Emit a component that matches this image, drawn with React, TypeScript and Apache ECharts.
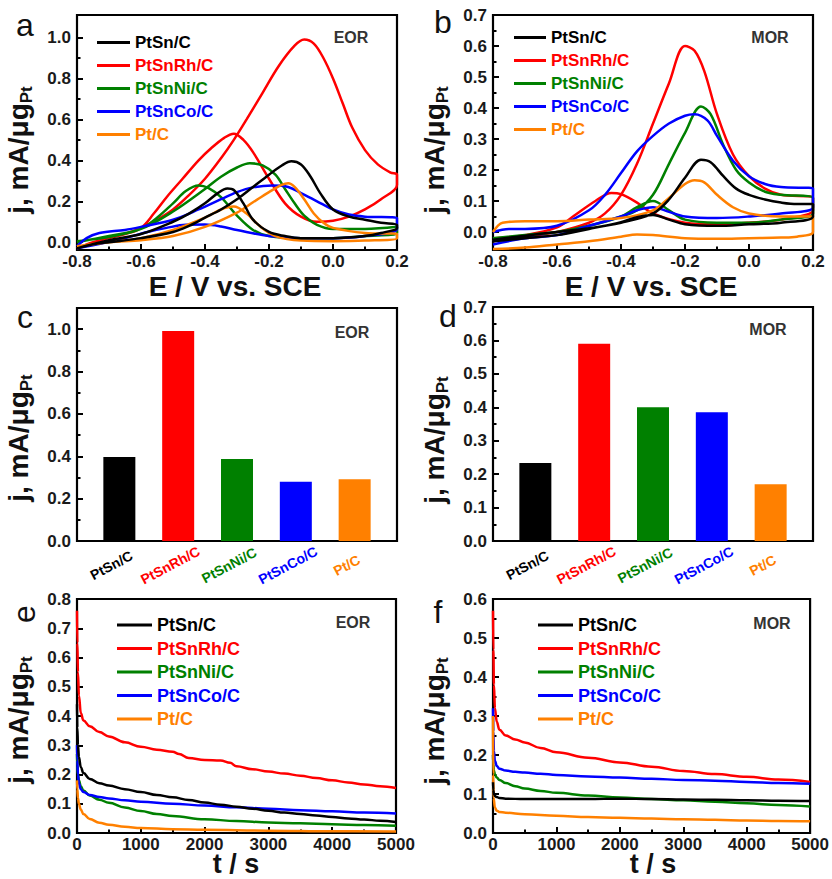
import React, { useEffect, useRef } from "react";
import * as echarts from "echarts";

const FONT = 'Arial, "Liberation Sans", Helvetica, sans-serif';
const NAMES = ["PtSn/C", "PtSnRh/C", "PtSnNi/C", "PtSnCo/C", "Pt/C"];
const COLORS = ["#000000", "#ff0000", "#008000", "#0000ff", "#ff8000"];

// ---- Panel a: CV in ethanol (forward scan then backward scan), [E, j]
const cvEorPtSn = [[-0.8,-0.03],[-0.75,-0.01],[-0.7,0.0],[-0.6,0.02],[-0.5,0.05],[-0.45,0.08],[-0.4,0.12],[-0.35,0.16],[-0.3,0.21],[-0.25,0.27],[-0.2,0.33],[-0.16,0.375],[-0.13,0.395],[-0.1,0.38],[-0.07,0.32],[-0.04,0.24],[0.0,0.16],[0.05,0.125],[0.1,0.11],[0.15,0.095],[0.2,0.085],[0.2,0.07],[0.15,0.045],[0.1,0.03],[0.0,0.02],[-0.1,0.02],[-0.15,0.03],[-0.2,0.05],[-0.25,0.11],[-0.28,0.19],[-0.31,0.255],[-0.33,0.262],[-0.36,0.24],[-0.4,0.19],[-0.45,0.14],[-0.5,0.1],[-0.6,0.04],[-0.7,0.01],[-0.8,-0.03]];
const cvEorPtSnRh = [[-0.8,-0.03],[-0.75,0.0],[-0.7,0.02],[-0.65,0.04],[-0.6,0.07],[-0.55,0.11],[-0.5,0.16],[-0.45,0.23],[-0.4,0.31],[-0.35,0.41],[-0.31,0.5],[-0.27,0.6],[-0.22,0.73],[-0.17,0.86],[-0.12,0.96],[-0.09,0.99],[-0.06,0.97],[-0.03,0.9],[0.0,0.8],[0.03,0.68],[0.06,0.56],[0.1,0.45],[0.14,0.38],[0.18,0.34],[0.2,0.33],[0.2,0.28],[0.15,0.21],[0.1,0.16],[0.05,0.125],[0.0,0.105],[-0.05,0.1],[-0.1,0.125],[-0.15,0.19],[-0.2,0.31],[-0.25,0.44],[-0.28,0.5],[-0.31,0.53],[-0.34,0.51],[-0.38,0.46],[-0.42,0.4],[-0.47,0.31],[-0.52,0.22],[-0.56,0.14],[-0.6,0.07],[-0.65,0.04],[-0.7,0.02],[-0.75,0.0],[-0.8,-0.03]];
const cvEorPtSnNi = [[-0.8,0.0],[-0.7,0.03],[-0.6,0.065],[-0.5,0.15],[-0.4,0.26],[-0.35,0.32],[-0.3,0.365],[-0.26,0.386],[-0.22,0.375],[-0.18,0.33],[-0.15,0.26],[-0.12,0.19],[-0.09,0.13],[-0.05,0.085],[0.0,0.065],[0.1,0.065],[0.2,0.075],[0.2,0.045],[0.1,0.03],[0.0,0.02],[-0.1,0.02],[-0.2,0.03],[-0.25,0.06],[-0.3,0.13],[-0.35,0.22],[-0.39,0.265],[-0.42,0.277],[-0.46,0.25],[-0.5,0.19],[-0.55,0.12],[-0.6,0.065],[-0.7,0.025],[-0.8,0.005]];
const cvEorPtSnCo = [[-0.8,-0.02],[-0.77,0.02],[-0.73,0.045],[-0.65,0.06],[-0.6,0.075],[-0.5,0.11],[-0.42,0.16],[-0.35,0.21],[-0.3,0.245],[-0.25,0.268],[-0.19,0.277],[-0.14,0.27],[-0.1,0.24],[-0.05,0.2],[0.0,0.16],[0.05,0.135],[0.1,0.125],[0.2,0.118],[0.2,0.065],[0.1,0.03],[0.0,0.02],[-0.1,0.02],[-0.2,0.03],[-0.3,0.06],[-0.35,0.077],[-0.4,0.086],[-0.46,0.085],[-0.52,0.07],[-0.58,0.05],[-0.65,0.02],[-0.72,-0.005],[-0.8,-0.03]];
const cvEorPt = [[-0.8,-0.02],[-0.7,0.0],[-0.6,0.01],[-0.5,0.03],[-0.4,0.075],[-0.3,0.145],[-0.25,0.195],[-0.2,0.245],[-0.16,0.28],[-0.14,0.288],[-0.12,0.27],[-0.09,0.21],[-0.06,0.14],[-0.03,0.095],[0.0,0.07],[0.1,0.045],[0.2,0.04],[0.2,0.02],[0.1,0.008],[0.0,0.005],[-0.1,0.008],[-0.18,0.03],[-0.23,0.08],[-0.27,0.14],[-0.31,0.174],[-0.35,0.16],[-0.4,0.12],[-0.5,0.06],[-0.6,0.02],[-0.7,0.0],[-0.8,-0.02]];

// ---- Panel b: CV in methanol, [E, j]
const cvMorPtSn = [[-0.8,-0.025],[-0.7,-0.012],[-0.6,0.0],[-0.5,0.012],[-0.4,0.03],[-0.3,0.06],[-0.25,0.105],[-0.2,0.175],[-0.15,0.233],[-0.12,0.225],[-0.08,0.18],[-0.04,0.14],[0.0,0.12],[0.05,0.105],[0.1,0.095],[0.15,0.09],[0.2,0.09],[0.2,0.05],[0.1,0.03],[0.0,0.025],[-0.1,0.02],[-0.2,0.025],[-0.25,0.04],[-0.3,0.055],[-0.35,0.048],[-0.4,0.032],[-0.5,0.01],[-0.6,-0.01],[-0.7,-0.02],[-0.8,-0.03]];
const cvMorPtSnRh = [[-0.8,-0.03],[-0.7,-0.015],[-0.6,0.0],[-0.5,0.03],[-0.45,0.06],[-0.4,0.12],[-0.35,0.22],[-0.3,0.35],[-0.25,0.48],[-0.2,0.6],[-0.17,0.585],[-0.14,0.52],[-0.1,0.38],[-0.05,0.25],[0.0,0.18],[0.05,0.14],[0.1,0.12],[0.2,0.11],[0.2,0.07],[0.1,0.04],[0.0,0.03],[-0.1,0.025],[-0.2,0.03],[-0.3,0.06],[-0.35,0.095],[-0.4,0.122],[-0.43,0.126],[-0.48,0.1],[-0.55,0.05],[-0.6,0.015],[-0.7,-0.01],[-0.8,-0.02]];
const cvMorPtSnNi = [[-0.8,-0.02],[-0.7,-0.01],[-0.6,0.0],[-0.5,0.02],[-0.4,0.05],[-0.35,0.07],[-0.3,0.12],[-0.25,0.22],[-0.2,0.32],[-0.15,0.405],[-0.12,0.38],[-0.08,0.28],[-0.04,0.2],[0.0,0.16],[0.05,0.13],[0.1,0.12],[0.2,0.11],[0.2,0.06],[0.1,0.04],[0.0,0.03],[-0.1,0.03],[-0.2,0.04],[-0.25,0.07],[-0.3,0.1],[-0.35,0.08],[-0.4,0.05],[-0.5,0.02],[-0.6,0.0],[-0.7,-0.01],[-0.8,-0.03]];
const cvMorPtSnCo = [[-0.8,0.0],[-0.75,0.01],[-0.7,0.01],[-0.6,0.02],[-0.5,0.07],[-0.45,0.12],[-0.4,0.19],[-0.35,0.26],[-0.3,0.31],[-0.25,0.35],[-0.2,0.375],[-0.17,0.38],[-0.13,0.36],[-0.1,0.31],[-0.05,0.23],[0.0,0.18],[0.05,0.155],[0.1,0.145],[0.2,0.14],[0.2,0.08],[0.1,0.06],[0.0,0.05],[-0.1,0.045],[-0.2,0.05],[-0.25,0.065],[-0.3,0.08],[-0.35,0.07],[-0.4,0.05],[-0.5,0.02],[-0.6,-0.01],[-0.7,-0.02],[-0.8,-0.04]];
const cvMorPt = [[-0.8,0.0],[-0.77,0.03],[-0.7,0.035],[-0.6,0.035],[-0.5,0.04],[-0.4,0.045],[-0.3,0.07],[-0.25,0.11],[-0.2,0.155],[-0.17,0.167],[-0.14,0.16],[-0.1,0.12],[-0.05,0.08],[0.0,0.06],[0.1,0.05],[0.2,0.05],[0.2,0.0],[0.15,-0.015],[0.1,-0.018],[0.0,-0.02],[-0.1,-0.022],[-0.2,-0.02],[-0.3,-0.01],[-0.35,-0.008],[-0.4,-0.015],[-0.5,-0.03],[-0.6,-0.04],[-0.7,-0.05],[-0.8,-0.055]];

// ---- Panels c, d: peak current densities
const eorPeak = [0.397, 0.992, 0.387, 0.28, 0.292];
const morPeak = [0.233, 0.59, 0.4, 0.385, 0.17];

// ---- Panel e: chronoamperometry in ethanol, [t, j]
const caEorPtSn = [[0,0.44],[5,0.36],[15,0.3],[30,0.26],[60,0.225],[100,0.205],[200,0.185],[350,0.17],[500,0.162],[750,0.15],[1000,0.14],[1250,0.13],[1500,0.122],[1750,0.113],[2000,0.104],[2250,0.097],[2500,0.09],[2750,0.083],[3000,0.076],[3250,0.07],[3500,0.065],[3750,0.06],[4000,0.055],[4250,0.05],[4500,0.046],[4750,0.042],[5000,0.038]];
const caEorPtSnRh = [[0,0.76],[5,0.65],[15,0.55],[30,0.47],[60,0.41],[100,0.385],[200,0.365],[350,0.345],[500,0.33],[750,0.31],[1000,0.295],[1250,0.285],[1500,0.278],[1600,0.27],[1750,0.256],[2000,0.25],[2250,0.248],[2400,0.24],[2500,0.228],[2750,0.218],[3000,0.21],[3250,0.203],[3500,0.196],[3750,0.188],[4000,0.18],[4250,0.173],[4500,0.166],[4750,0.16],[5000,0.154]];
const caEorPtSnNi = [[0,0.27],[5,0.23],[15,0.2],[30,0.18],[60,0.16],[100,0.145],[200,0.128],[350,0.114],[500,0.103],[750,0.087],[1000,0.075],[1250,0.065],[1500,0.058],[2000,0.047],[2500,0.041],[3000,0.036],[3500,0.033],[4000,0.03],[4500,0.027],[5000,0.025]];
const caEorPtSnCo = [[0,0.3],[5,0.25],[15,0.2],[30,0.17],[60,0.15],[100,0.14],[200,0.13],[350,0.123],[500,0.118],[750,0.112],[1000,0.107],[1500,0.1],[2000,0.094],[2500,0.088],[3000,0.083],[3500,0.078],[4000,0.074],[4500,0.07],[5000,0.067]];
const caEorPt = [[0,0.18],[5,0.15],[15,0.12],[30,0.1],[60,0.08],[100,0.065],[200,0.048],[350,0.035],[500,0.028],[750,0.021],[1000,0.017],[1500,0.013],[2000,0.011],[3000,0.008],[4000,0.006],[5000,0.005]];

// ---- Panel f: chronoamperometry in methanol, [t, j]
const caMorPtSn = [[0,0.13],[5,0.11],[15,0.1],[30,0.095],[60,0.092],[100,0.09],[200,0.088],[500,0.087],[1000,0.087],[1500,0.087],[2000,0.088],[2500,0.087],[3000,0.086],[3500,0.085],[4000,0.084],[4500,0.083],[5000,0.082]];
const caMorPtSnRh = [[0,0.57],[5,0.47],[15,0.38],[30,0.32],[60,0.285],[100,0.265],[200,0.25],[350,0.24],[500,0.232],[750,0.218],[1000,0.207],[1500,0.193],[2000,0.181],[2500,0.17],[3000,0.159],[3500,0.151],[4000,0.144],[4500,0.137],[5000,0.131]];
const caMorPtSnNi = [[0,0.2],[5,0.175],[15,0.16],[30,0.15],[60,0.142],[100,0.136],[200,0.128],[350,0.12],[500,0.114],[750,0.108],[1000,0.103],[1500,0.096],[2000,0.091],[2500,0.087],[3000,0.084],[3500,0.08],[4000,0.076],[4500,0.072],[5000,0.068]];
const caMorPtSnCo = [[0,0.32],[5,0.26],[15,0.21],[30,0.185],[60,0.172],[100,0.165],[200,0.16],[350,0.157],[500,0.155],[750,0.152],[1000,0.149],[1500,0.145],[2000,0.142],[2500,0.139],[3000,0.136],[3500,0.134],[4000,0.131],[4500,0.128],[5000,0.126]];
const caMorPt = [[0,0.3],[3,0.15],[10,0.09],[30,0.065],[60,0.057],[100,0.054],[200,0.052],[500,0.048],[1000,0.044],[1500,0.041],[2000,0.039],[2500,0.037],[3000,0.035],[3500,0.034],[4000,0.032],[4500,0.031],[5000,0.03]];

// ---- Tick values
const eTicks = [-0.8, -0.6, -0.4, -0.2, 0.0, 0.2];
const eMinor = [-0.7, -0.5, -0.3, -0.1, 0.1];
const jTicksA = [0.0, 0.2, 0.4, 0.6, 0.8, 1.0];
const jMinorA = [0.1, 0.3, 0.5, 0.7, 0.9];
const jTicksB = [0.0, 0.1, 0.2, 0.3, 0.4, 0.5, 0.6, 0.7];
const jMinorB = [0.05, 0.15, 0.25, 0.35, 0.45, 0.55, 0.65];
const jMinorC = [0.1, 0.3, 0.5, 0.7, 0.9];
const jTicksE = [0.0, 0.1, 0.2, 0.3, 0.4, 0.5, 0.6, 0.7, 0.8];
const jTicksF = [0.0, 0.1, 0.2, 0.3, 0.4, 0.5, 0.6];
const jMinorF = [0.05, 0.15, 0.25, 0.35, 0.45, 0.55];
const tTicks = [0, 1000, 2000, 3000, 4000, 5000];
const tMinor = [500, 1500, 2500, 3500, 4500];
const barPos = [1, 2, 3, 4, 5];

const LABEL = { fontSize: 17, fontWeight: "bold", fontFamily: FONT, color: "#1a1a1a", lineHeight: 14 };
const TICK = { color: "#000", width: 2 };

function buildOption() {
  const xAxes: any[] = [];
  const yAxes: any[] = [];
  const series: any[] = [];

  const grids = [
    { left: 77, top: 15, width: 320, height: 235 },
    { left: 493, top: 15, width: 320, height: 235 },
    { left: 77, top: 308, width: 320, height: 233 },
    { left: 493, top: 307, width: 320, height: 234 },
    { left: 77, top: 599, width: 319, height: 234 },
    { left: 493, top: 599, width: 319, height: 234 },
  ].map((g) => ({ ...g, show: true, borderColor: "#000", borderWidth: 2.2, backgroundColor: "transparent" }));

  const axis = (dim: "x" | "y", grid: number, min: number, max: number, major: number[], minor: number[] | null, fmt: (v: number) => string) => {
    const arr = dim === "x" ? xAxes : yAxes;
    const idx = arr.length;
    const position = dim === "x" ? "bottom" : "left";
    arr.push({
      type: "value", gridIndex: grid, position, min, max,
      axisLine: { show: false, onZero: false }, splitLine: { show: false },
      axisTick: { show: true, inside: true, length: 6, lineStyle: TICK, customValues: major },
      axisLabel: { show: true, customValues: major, formatter: fmt, margin: dim === "x" ? 4 : 6, ...LABEL },
    });
    if (minor) {
      arr.push({
        type: "value", gridIndex: grid, position, min, max,
        axisLine: { show: false, onZero: false }, splitLine: { show: false }, axisLabel: { show: false },
        axisTick: { show: true, inside: true, length: 3.5, lineStyle: TICK, customValues: minor },
      });
    }
    return idx;
  };
  const f1 = (v: number) => Number(v).toFixed(1);
  const f0 = (v: number) => String(Math.round(Number(v)));

  const addLines = (datasets: number[][][], xi: number, yi: number, cv: boolean) => {
    datasets.forEach((d, i) => {
      series.push({
        type: "line", name: NAMES[i], data: d, xAxisIndex: xi, yAxisIndex: yi,
        symbol: "none", showSymbol: false, smooth: cv ? 0.35 : 0.4,
        ...(cv ? {} : { smoothMonotone: "x" }),
        color: COLORS[i], lineStyle: { color: COLORS[i], width: 2.5 }, itemStyle: { color: COLORS[i] },
        z: i === 0 ? 4 : 3,
      });
    });
  };

  // a
  let xi = axis("x", 0, -0.8, 0.2, eTicks, eMinor, f1);
  let yi = axis("y", 0, -0.038, 1.11, jTicksA, jMinorA, f1);
  addLines([cvEorPtSn, cvEorPtSnRh, cvEorPtSnNi, cvEorPtSnCo, cvEorPt], xi, yi, true);
  // b
  xi = axis("x", 1, -0.8, 0.2, eTicks, eMinor, f1);
  yi = axis("y", 1, -0.058, 0.7, jTicksB, jMinorB, f1);
  addLines([cvMorPtSn, cvMorPtSnRh, cvMorPtSnNi, cvMorPtSnCo, cvMorPt], xi, yi, true);

  // c, d bars
  const barAxis = (grid: number) => {
    const idx = xAxes.length;
    xAxes.push({
      type: "value", gridIndex: grid, position: "bottom", min: 0.28, max: 5.72,
      axisLine: { show: false, onZero: false }, splitLine: { show: false }, axisTick: { show: false },
      axisLabel: {
        show: true, customValues: barPos, rotate: 28, align: "center", verticalAlign: "middle",
        padding: [0, 18, 0, 0], margin: 20,
        formatter: (v: number) => NAMES[Math.round(Number(v)) - 1],
        color: (v: any) => COLORS[Math.round(Number(v)) - 1],
        fontSize: 14, fontWeight: "bold", fontFamily: FONT,
      },
    });
    return idx;
  };
  xi = barAxis(2);
  yi = axis("y", 2, 0, 1.1, jTicksA, jMinorC, f1);
  series.push({
    type: "bar", name: "EOR peak", xAxisIndex: xi, yAxisIndex: yi, barWidth: 32,
    data: eorPeak.map((v, i) => ({ value: [barPos[i], v], itemStyle: { color: COLORS[i] } })),
  });
  xi = barAxis(3);
  yi = axis("y", 3, 0, 0.7, jTicksB, jMinorB, f1);
  series.push({
    type: "bar", name: "MOR peak", xAxisIndex: xi, yAxisIndex: yi, barWidth: 32,
    data: morPeak.map((v, i) => ({ value: [barPos[i], v], itemStyle: { color: COLORS[i] } })),
  });

  // e
  xi = axis("x", 4, 0, 5000, tTicks, tMinor, f0);
  yi = axis("y", 4, 0, 0.8, jTicksE, null, f1);
  addLines([caEorPtSn, caEorPtSnRh, caEorPtSnNi, caEorPtSnCo, caEorPt], xi, yi, false);
  // f
  xi = axis("x", 5, 0, 5000, tTicks, tMinor, f0);
  yi = axis("y", 5, 0, 0.6, jTicksF, jMinorF, f1);
  addLines([caMorPtSn, caMorPtSnRh, caMorPtSnNi, caMorPtSnCo, caMorPt], xi, yi, false);

  const legend = (left: number, top: number, w: number, fs: number, gap: number) => ({
    show: true, orient: "vertical", left, top, itemWidth: w, itemHeight: 3, itemGap: gap,
    icon: "rect", selectedMode: false,
    data: NAMES.map((n, i) => ({ name: n, textStyle: { color: COLORS[i] } })),
    textStyle: { fontSize: fs, fontWeight: "bold", fontFamily: FONT, lineHeight: fs },
  });

  const letter = (t: string, x: number, y: number, rot = 0) => ({
    type: "text", x, y, rotation: rot,
    style: { text: t, fontSize: 32, fontFamily: FONT, fill: "#111", align: "center", verticalAlign: "middle" },
  });
  const tag = (t: string, x: number, y: number) => ({
    type: "text", x, y,
    style: { text: t, fontSize: 16, fontWeight: "bold", fontFamily: FONT, fill: "#333", align: "center", verticalAlign: "middle" },
  });
  const xTitle = (t: string, x: number, y: number, fs = 28) => ({
    type: "text", x, y,
    style: { text: t, fontSize: fs, lineHeight: 22, fontWeight: "bold", fontFamily: FONT, fill: "#111", align: "center", verticalAlign: "middle" },
  });
  const yTitle = (x: number, y: number) => ({
    type: "text", x, y, rotation: Math.PI / 2,
    style: {
      text: "{m|j, mA/μg}{s|Pt}", align: "center", verticalAlign: "middle", fill: "#111",
      rich: {
        m: { fontSize: 28, fontWeight: "bold", fontFamily: FONT, lineHeight: 34, fill: "#111" },
        s: { fontSize: 17, fontWeight: "bold", fontFamily: FONT, lineHeight: 17, verticalAlign: "bottom", fill: "#111" },
      },
    },
  });

  return {
    animation: false,
    backgroundColor: "#ffffff",
    grid: grids,
    xAxis: xAxes,
    yAxis: yAxes,
    series,
    legend: [legend(92, 29, 33, 17, 6), legend(509, 24, 32, 17, 6), legend(112, 611, 35, 18, 5.5), legend(533, 611, 35, 18, 5.5)],
    graphic: [
      letter("a", 25, 25), letter("b", 443, 22), letter("c", 25, 317), letter("d", 448, 316),
      letter("e", 24, 614, Math.PI / 2), letter("f", 438, 612),
      tag("EOR", 351, 37), tag("MOR", 770, 37), tag("EOR", 352, 332), tag("MOR", 768, 329), tag("EOR", 353, 622), tag("MOR", 772, 623),
      xTitle("E / V vs. SCE", 235, 286), xTitle("E / V vs. SCE", 651, 286), xTitle("t / s", 236, 864, 27), xTitle("t / s", 653, 864, 27),
      yTitle(18, 150), yTitle(434, 150), yTitle(18, 438), yTitle(434, 440), yTitle(18, 720), yTitle(434, 721),
    ],
  };
}

export default function App() {
  const ref = useRef<HTMLDivElement>(null);
  useEffect(() => {
    if (!ref.current) return;
    const chart = echarts.init(ref.current, undefined, { renderer: "svg" });
    chart.setOption(buildOption() as any);
    return () => chart.dispose();
  }, []);
  return <div ref={ref} style={{ position: "absolute", left: 0, top: 0, width: 832, height: 879, background: "#fff" }} />;
}
